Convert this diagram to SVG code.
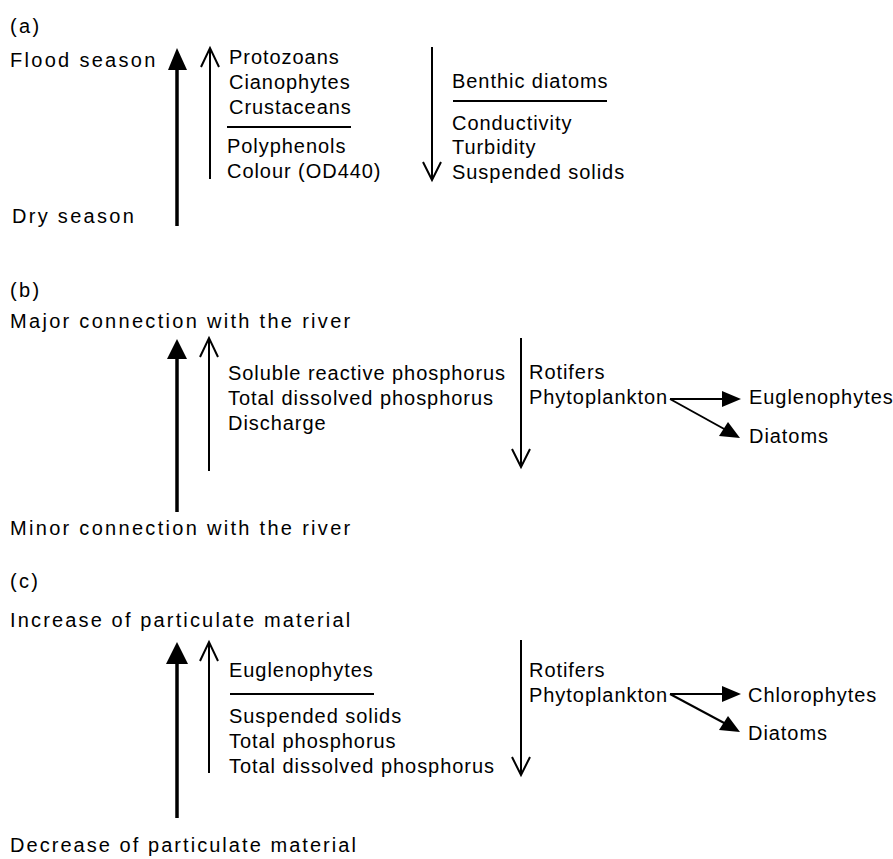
<svg xmlns="http://www.w3.org/2000/svg" width="893" height="859" viewBox="0 0 893 859">
<defs>
<style>
text{font-family:"Liberation Sans",Arial,sans-serif;font-size:20px;fill:#000;letter-spacing:0.95px}
.lbl{letter-spacing:2.3px}
.thick{stroke:#000;stroke-width:3.5;fill:none}
.thin{stroke:#000;stroke-width:2;fill:none}
.head{fill:#000;stroke:none}
.rule{stroke:#000;stroke-width:2}
</style>
</defs>
<rect width="893" height="859" fill="#fff"/>
<g id="panel-a">
<text x="10" y="33" class="lbl">(a)</text>
<g id="a-labels">
<text x="10" y="67" class="lbl">Flood season</text>
<text x="12" y="223" class="lbl">Dry season</text>
</g>
<g id="a-up-list">
<text x="229" y="64">Protozoans</text>
<text x="229" y="89">Cianophytes</text>
<text x="229" y="114">Crustaceans</text>
<line class="rule" x1="227" y1="127" x2="351" y2="127"/>
<text x="227" y="153">Polyphenols</text>
<text x="227" y="178">Colour (OD440)</text>
</g>
<g id="a-down-list">
<text x="452" y="88">Benthic diatoms</text>
<line class="rule" x1="453" y1="101" x2="607" y2="101"/>
<text x="452" y="130">Conductivity</text>
<text x="452" y="154">Turbidity</text>
<text x="452" y="179">Suspended solids</text>
</g>
</g>
<g id="panel-b">
<text x="10" y="297" class="lbl">(b)</text>
<g id="b-labels">
<text x="10" y="328" class="lbl">Major connection with the river</text>
<text x="10" y="535" class="lbl">Minor connection with the river</text>
</g>
<g id="b-up-list">
<text x="228" y="380">Soluble reactive phosphorus</text>
<text x="228" y="405">Total dissolved phosphorus</text>
<text x="228" y="430">Discharge</text>
</g>
<g id="b-down-list">
<text x="529" y="379">Rotifers</text>
<text x="529" y="404">Phytoplankton</text>
<text x="749" y="404">Euglenophytes</text>
<text x="749" y="443">Diatoms</text>
</g>
</g>
<g id="panel-c">
<text x="10" y="588" class="lbl">(c)</text>
<g id="c-labels">
<text x="10" y="627" class="lbl" style="letter-spacing:2.15px">Increase of particulate material</text>
<text x="10" y="852" class="lbl" style="letter-spacing:2.05px">Decrease of particulate material</text>
</g>
<g id="c-up-list">
<text x="229" y="677">Euglenophytes</text>
<line class="rule" x1="230" y1="694" x2="374" y2="694"/>
<text x="229" y="723">Suspended solids</text>
<text x="229" y="748">Total phosphorus</text>
<text x="229" y="773">Total dissolved phosphorus</text>
</g>
<g id="c-down-list">
<text x="529" y="677">Rotifers</text>
<text x="529" y="702">Phytoplankton</text>
<text x="748" y="702">Chlorophytes</text>
<text x="748" y="740">Diatoms</text>
</g>
</g>
<g id="connectors">
<!-- panel a -->
<line class="thick" x1="177" y1="226" x2="177" y2="66"/>
<polygon class="head" points="177,48 168,70 187,70"/>
<line class="thin" x1="210" y1="179" x2="210" y2="48"/>
<polyline class="thin" points="201,67 210,48 219,67"/>
<line class="thin" x1="432" y1="47" x2="432" y2="180"/>
<polyline class="thin" points="423,162 432,180 441,162"/>
<!-- panel b -->
<line class="thick" x1="177" y1="512" x2="177" y2="356"/>
<polygon class="head" points="177,339 167,359 187,359"/>
<line class="thin" x1="209" y1="471" x2="209" y2="338"/>
<polyline class="thin" points="200,357 209,338 218,357"/>
<line class="thin" x1="521" y1="338" x2="521" y2="467"/>
<polyline class="thin" points="512,449 521,467 530,449"/>
<line class="thin" x1="670" y1="399" x2="725" y2="399"/>
<polygon class="head" points="741,399 722,391 722,407"/>
<line class="thin" x1="670" y1="399" x2="726" y2="430"/>
<polygon class="head" points="740,438 728,422 719,436"/>
<!-- panel c -->
<line class="thick" x1="177" y1="818" x2="177" y2="660"/>
<polygon class="head" points="177,642 166,664 188,664"/>
<line class="thin" x1="209" y1="773" x2="209" y2="642"/>
<polyline class="thin" points="200,661 209,642 218,661"/>
<line class="thin" x1="521" y1="640" x2="521" y2="775"/>
<polyline class="thin" points="512,757 521,775 530,757"/>
<line class="thin" x1="670" y1="694" x2="725" y2="694"/>
<polygon class="head" points="741,694 722,686 722,702"/>
<line class="thin" x1="670" y1="694" x2="726" y2="724"/>
<polygon class="head" points="740,732 728,716 719,730"/>
</g>
</svg>
